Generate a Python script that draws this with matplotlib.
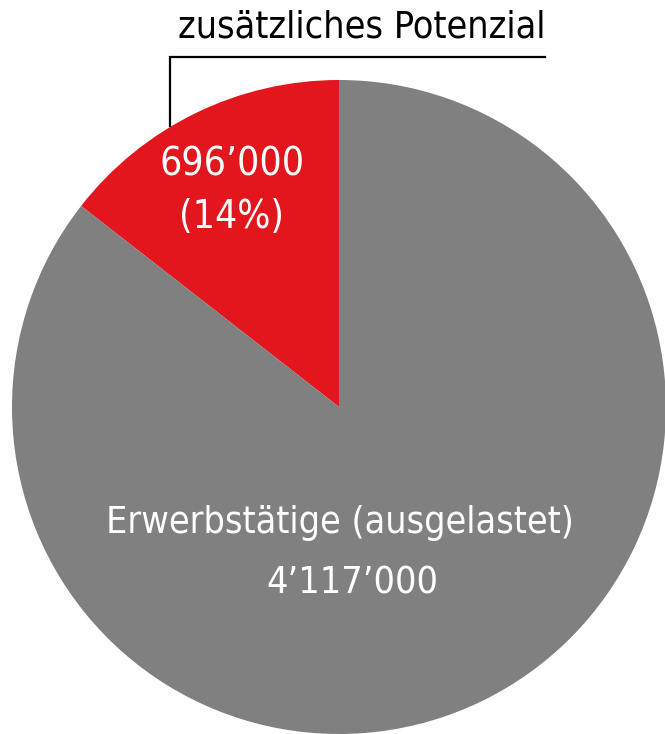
import matplotlib
matplotlib.use('Agg')
import matplotlib.pyplot as plt

# Data
labels = ['zusätzliches Potenzial', 'Erwerbstätige (ausgelastet)']
values = [696000, 4117000]
value_labels = ['696’000', '4’117’000']
share_labels = ['(14%)', '']
colours = ['#E2161C', '#808080']

plt.rcParams['font.family'] = ['DejaVu Sans']
plt.rcParams['font.stretch'] = 'condensed'

W, H = 665, 734
fig = plt.figure(figsize=(W / 100, H / 100), dpi=100)
ax = fig.add_axes([0, 0, 1, 1])

# pie in pixel-like coordinates (y measured from top of the image)
cx, cy, r = 339, H - 407, 327
ax.pie(values, colors=colours, startangle=90, counterclock=True,
       center=(cx, cy), radius=r, frame=True,
       wedgeprops={'linewidth': 0})

ax.set_xlim(0, W)
ax.set_ylim(0, H)
ax.set_aspect('equal')
ax.axis('off')

# red slice labels
ax.text(232, H - 165, value_labels[0], color='white', fontsize=28,
        ha='center', va='center')
ax.text(232, H - 217, share_labels[0], color='white', fontsize=28,
        ha='center', va='center')

# grey slice labels
ax.text(340, H - 523, labels[1], color='white', fontsize=27,
        ha='center', va='center')
ax.text(352, H - 584, value_labels[1], color='white', fontsize=27,
        ha='center', va='center')

# leader line + title of the red slice
ax.plot([170, 170, 545], [H - 126, H - 57, H - 57], color='black',
        linewidth=1.6, solid_joinstyle='miter')
ax.text(362, H - 28, labels[0], color='black', fontsize=27,
        ha='center', va='center')

fig.savefig('out.png', dpi=100)
